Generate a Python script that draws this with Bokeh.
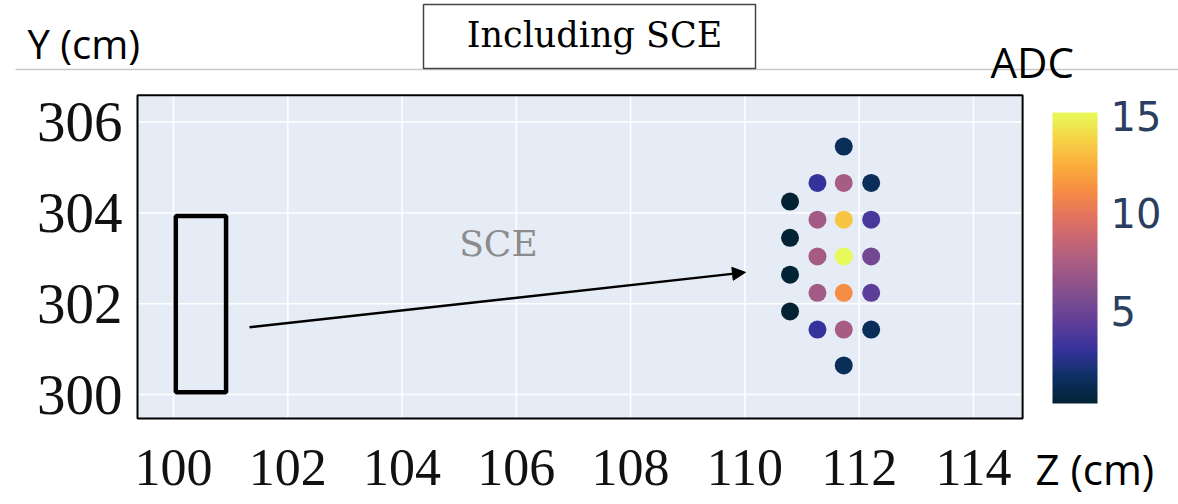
import numpy as np
from bokeh.plotting import figure
from bokeh.models import (ColumnDataSource, LinearColorMapper, ColorBar, FixedTicker,
                          Label, Arrow, NormalHead, LinearAxis, BoxAnnotation, Range1d)
from bokeh.transform import transform
from bokeh.embed import file_html
from bokeh.resources import INLINE

# Wire hits: z position (cm), y position (cm) and collected charge (ADC)
hit_z = [110.79, 110.79, 110.79, 110.79,
         111.27, 111.27, 111.27, 111.27, 111.27,
         111.73, 111.73, 111.73, 111.73, 111.73, 111.73, 111.73,
         112.21, 112.21, 112.21, 112.21, 112.21]
hit_y = [304.25, 303.45, 302.64, 301.83,
         304.66, 303.85, 303.04, 302.24, 301.43,
         305.46, 304.66, 303.85, 303.04, 302.24, 301.43, 300.64,
         304.66, 303.85, 303.04, 302.24, 301.43]
hit_adc = [0.24, 0.35, 0.35, 0.24,
           3.0, 7.2, 7.3, 7.2, 3.0,
           1.3, 7.4, 13.3, 15.17, 11.2, 7.4, 1.3,
           1.3, 3.6, 5.2, 4.3, 1.3]

# Original energy-deposit region and its displaced position
deposit_z = [100.04, 100.92]
deposit_y = [300.05, 303.93]
shift_start = [101.33, 301.48]
shift_end = [110.01, 302.69]

z_ticks = [100, 102, 104, 106, 108, 110, 112, 114]
y_ticks = [300, 302, 304, 306]
adc_ticks = [5, 10, 15]

# visible extent of the detector view
z_lim = [99.37, 114.86]
y_lim = [299.47, 306.59]

# cmocean "thermal" colour scale, expanded to a smooth palette
thermal = ['#032333', '#0d3064', '#35329b', '#5d3e99', '#7e4d8f', '#9e5987',
           '#c16479', '#e17161', '#f68b45', '#fbad3c', '#f6d346', '#e7fa5a']


def expand(colors, n=256):
    rgb = np.array([[int(c[i:i + 2], 16) for i in (1, 3, 5)] for c in colors], float)
    pos = np.linspace(0, 1, len(colors))
    t = np.linspace(0, 1, n)
    out = np.stack([np.interp(t, pos, rgb[:, k]) for k in range(3)], axis=1)
    return ['#%02x%02x%02x' % tuple(int(round(v)) for v in r) for r in out]


palette = expand(thermal)
mapper = LinearColorMapper(palette=palette, low=min(hit_adc), high=max(hit_adc))
source = ColumnDataSource(dict(z=hit_z, y=hit_y, adc=hit_adc))

# The canvas is one frame; the detector view sits inside it with margins for
# captions, tick labels and the colour bar.
W, H = 1178, 504
px_z, px_y = 57.14, 45.4          # pixels per cm
z0_px, y0_px = 173, 394           # canvas position of (100, 300)
x_range = Range1d(100 - z0_px / px_z, 100 + (W - z0_px) / px_z)
y_range = Range1d(300 - (H - y0_px) / px_y, 300 + y0_px / px_y)

p = figure(width=W, height=H, x_range=x_range, y_range=y_range,
           x_axis_type=None, y_axis_type=None, output_backend="svg",
           toolbar_location=None, min_border=0)
p.outline_line_color = None
p.background_fill_color = "white"
p.border_fill_color = "white"

# plot area and grid
p.quad(left=z_lim[0], right=z_lim[1], bottom=y_lim[0], top=y_lim[1],
       fill_color="#e5ecf6", line_color=None)
p.segment(x0=z_ticks, x1=z_ticks, y0=y_lim[0], y1=y_lim[1], line_color="white", line_width=1.5)
p.segment(x0=z_lim[0], x1=z_lim[1], y0=y_ticks, y1=y_ticks, line_color="white", line_width=1.5)

for ax, loc, side, ticks, size, standoff in (
        (LinearAxis(fixed_location=y_lim[0]), None, "below", z_ticks, "52px", 31),
        (LinearAxis(fixed_location=z_lim[0]), None, "left", y_ticks, "57px", 15)):
    ax.ticker = FixedTicker(ticks=ticks)
    ax.axis_line_color = None
    ax.major_tick_line_color = None
    ax.minor_tick_line_color = None
    ax.major_tick_in = 0
    ax.major_tick_out = 0
    ax.major_label_text_font = "Liberation Serif"
    ax.major_label_text_font_size = size
    ax.major_label_text_color = "#111111"
    ax.major_label_standoff = standoff
    p.add_layout(ax, side)

# region where the charge was deposited
p.quad(left=deposit_z[0], right=deposit_z[1], bottom=deposit_y[0], top=deposit_y[1],
       fill_color=None, line_color="black", line_width=4.5)

p.add_layout(Arrow(end=NormalHead(size=13, fill_color="black", line_color="black"),
                   x_start=shift_start[0], y_start=shift_start[1],
                   x_end=shift_end[0], y_end=shift_end[1],
                   line_color="black", line_width=2.5))

p.scatter("z", "y", source=source, size=18, line_color=None,
          fill_color=transform("adc", mapper))

# frame around the detector view
p.quad(left=z_lim[0], right=z_lim[1], bottom=y_lim[0], top=y_lim[1],
       fill_color=None, line_color="black", line_width=2)

p.add_layout(Label(x=105.0, y=302.88, text="SCE", text_font="DejaVu Serif",
                   text_font_size="36px", text_color="#8c8c8c"))

# header: separator, boxed title, captions
p.add_layout(BoxAnnotation(left=15, right=W, bottom=H - 69.75, top=H - 68.25,
                           left_units="screen", right_units="screen",
                           bottom_units="screen", top_units="screen",
                           fill_color="#c8c8c8", fill_alpha=1, line_color=None))
p.add_layout(BoxAnnotation(left=423, right=755, bottom=H - 68, top=H - 4,
                           left_units="screen", right_units="screen",
                           bottom_units="screen", top_units="screen",
                           fill_color="white", fill_alpha=1,
                           line_color="#444444", line_width=1.5, line_alpha=1))


def caption(x, y, text, font, size, align="left"):
    p.add_layout(Label(x=x, y=H - y, x_units="screen", y_units="screen", text=text,
                       text_font=font, text_font_size=size, text_color="black",
                       text_align=align, text_baseline="alphabetic"))


caption(594, 34, "Including SCE", "DejaVu Serif", "35px", align="center")
caption(27, 42.5, "Y (cm)", "Open Sans", "40px")
caption(990, 61, "ADC", "Open Sans", "42px")
caption(1035, 468, "Z (cm)", "Open Sans", "42px")

cbar = ColorBar(color_mapper=mapper, location=(1052, H - 403), width=45, height=291,
                padding=0, margin=0, ticker=FixedTicker(ticks=adc_ticks),
                major_label_text_font="DejaVu Sans", major_label_text_font_size="40px",
                major_label_text_color="#2a3f5f", label_standoff=13,
                major_tick_line_color=None, bar_line_color=None,
                background_fill_color=None, border_line_color=None)
p.add_layout(cbar)

open("out.html", "w").write(file_html(p, INLINE))
